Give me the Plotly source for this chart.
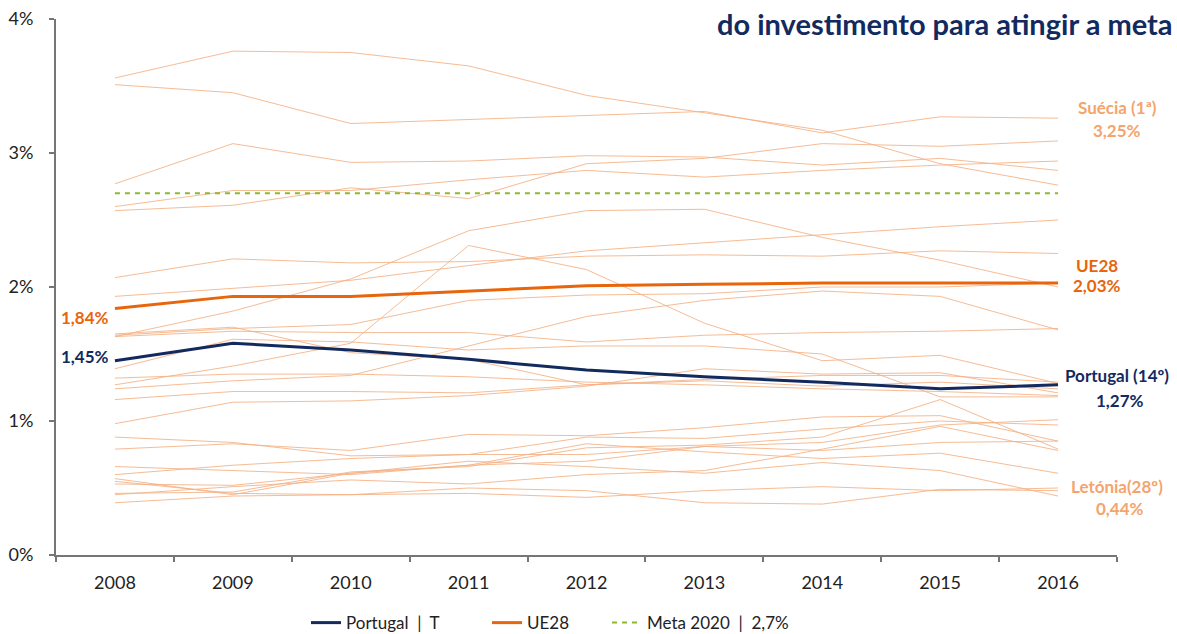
import plotly.graph_objects as go

years = ["2008", "2009", "2010", "2011", "2012", "2013", "2014", "2015", "2016"]

countries = {
    "Suécia":      [3.51, 3.45, 3.22, 3.25, 3.28, 3.31, 3.15, 3.27, 3.26],
    "Finlândia":   [3.56, 3.76, 3.75, 3.65, 3.43, 3.30, 3.17, 2.92, 2.76],
    "Dinamarca":   [2.77, 3.07, 2.93, 2.94, 2.98, 2.97, 2.91, 2.96, 2.87],
    "Alemanha":    [2.60, 2.72, 2.72, 2.80, 2.87, 2.82, 2.87, 2.91, 2.94],
    "Áustria":     [2.57, 2.61, 2.74, 2.66, 2.92, 2.96, 3.07, 3.05, 3.09],
    "Bélgica":     [1.93, 1.99, 2.05, 2.16, 2.27, 2.33, 2.39, 2.45, 2.50],
    "França":      [2.07, 2.21, 2.18, 2.19, 2.23, 2.24, 2.23, 2.27, 2.25],
    "Eslovénia":   [1.63, 1.82, 2.06, 2.42, 2.57, 2.58, 2.37, 2.20, 2.00],
    "Estónia":     [1.27, 1.41, 1.58, 2.31, 2.13, 1.73, 1.45, 1.49, 1.28],
    "Países Baixos": [1.64, 1.69, 1.72, 1.90, 1.94, 1.95, 2.00, 2.00, 2.03],
    "Reino Unido": [1.63, 1.67, 1.66, 1.66, 1.59, 1.64, 1.66, 1.67, 1.69],
    "Luxemburgo":  [1.65, 1.70, 1.51, 1.46, 1.27, 1.30, 1.26, 1.29, 1.24],
    "Itália":      [1.16, 1.22, 1.22, 1.21, 1.27, 1.31, 1.34, 1.34, 1.29],
    "Hungria":     [0.98, 1.14, 1.15, 1.19, 1.26, 1.39, 1.35, 1.36, 1.21],
    "Espanha":     [1.32, 1.35, 1.35, 1.33, 1.29, 1.27, 1.24, 1.22, 1.19],
    "Chéquia":     [1.24, 1.30, 1.34, 1.56, 1.78, 1.90, 1.97, 1.93, 1.68],
    "Irlanda":     [1.39, 1.61, 1.59, 1.53, 1.56, 1.56, 1.50, 1.18, 1.18],
    "Polónia":     [0.60, 0.67, 0.72, 0.75, 0.88, 0.87, 0.94, 1.00, 0.97],
    "Lituânia":    [0.79, 0.83, 0.78, 0.90, 0.89, 0.95, 1.03, 1.04, 0.85],
    "Croácia":     [0.88, 0.84, 0.74, 0.75, 0.75, 0.81, 0.78, 0.84, 0.85],
    "Grécia":      [0.66, 0.63, 0.60, 0.67, 0.70, 0.81, 0.84, 0.97, 1.01],
    "Eslováquia":  [0.46, 0.47, 0.62, 0.66, 0.80, 0.82, 0.88, 1.16, 0.79],
    "Bulgária":    [0.45, 0.51, 0.56, 0.53, 0.60, 0.63, 0.79, 0.96, 0.78],
    "Letónia":     [0.57, 0.45, 0.61, 0.70, 0.66, 0.61, 0.69, 0.63, 0.44],
    "Malta":       [0.53, 0.52, 0.61, 0.67, 0.83, 0.77, 0.72, 0.76, 0.61],
    "Chipre":      [0.39, 0.44, 0.45, 0.46, 0.43, 0.48, 0.51, 0.48, 0.50],
    "Roménia":     [0.55, 0.46, 0.45, 0.50, 0.48, 0.39, 0.38, 0.49, 0.48],
}

portugal = [1.45, 1.58, 1.53, 1.46, 1.38, 1.33, 1.29, 1.24, 1.27]
ue28 = [1.84, 1.93, 1.93, 1.97, 2.01, 2.02, 2.03, 2.03, 2.03]
meta = [2.7, 2.7, 2.7, 2.7, 2.7, 2.7, 2.7, 2.7, 2.7]

ytick_vals = [0, 1, 2, 3, 4]
ytick_text = ["0%", "1%", "2%", "3%", "4%"]

NAVY = "#132a5e"
ORANGE = "#e8650c"
LIGHT = "#f5b183"
LABEL_LIGHT = "#f4a46c"
GREEN = "#8cba2c"
AXIS = "#767676"
FONT = "Lato"
NB = "\u00a0"

fig = go.Figure()

for name, vals in countries.items():
    fig.add_trace(go.Scatter(x=years, y=vals, mode="lines", name=name,
                             line=dict(color=LIGHT, width=1), opacity=0.85,
                             showlegend=False, hoverinfo="skip"))

fig.add_trace(go.Scatter(x=years, y=meta, mode="lines",
                         name="Meta 2020" + NB + NB + "|" + NB + NB + "2,7%",
                         line=dict(color=GREEN, width=2, dash="5px,5px"), legend="legend3"))
fig.add_trace(go.Scatter(x=years, y=ue28, mode="lines", name="UE28",
                         line=dict(color=ORANGE, width=3), legend="legend2"))
fig.add_trace(go.Scatter(x=years, y=portugal, mode="lines",
                         name="Portugal" + NB + NB + "|" + NB + NB + "T",
                         line=dict(color=NAVY, width=3), legend="legend"))

annos = [
    dict(text="1,84%", x=0.027, y=1.77, color=ORANGE),
    dict(text="1,45%", x=0.027, y=1.485, color=NAVY),
    dict(text="Suécia (1ª)", x=1.0, y=3.34, color=LABEL_LIGHT),
    dict(text="3,25%", x=1.0, y=3.17, color=LABEL_LIGHT),
    dict(text="UE28", x=0.981, y=2.16, color=ORANGE),
    dict(text="2,03%", x=0.981, y=2.01, color=ORANGE),
    dict(text="Portugal (14º)", x=1.0, y=1.34, color=NAVY),
    dict(text="1,27%", x=1.003, y=1.15, color=NAVY),
    dict(text="Letónia(28º)", x=1.0, y=0.51, color=LABEL_LIGHT),
    dict(text="0,44%", x=1.003, y=0.345, color=LABEL_LIGHT),
]
for a in annos:
    fig.add_annotation(text="<b>%s</b>" % a["text"], x=a["x"], y=a["y"],
                       xref="paper", yref="y", xanchor="center", yanchor="middle",
                       showarrow=False, font=dict(family=FONT, size=17, color=a["color"]))

fig.add_annotation(text="<b>do investimento para atingir a meta</b>",
                   x=1.0547, y=0.991, xref="paper", yref="paper",
                   xanchor="right", yanchor="middle", showarrow=False,
                   font=dict(family=FONT, size=29, color=NAVY))

leg_common = dict(orientation="h", xanchor="left", y=-0.127, yanchor="middle",
                  font=dict(family=FONT, size=17, color="#222222"),
                  bgcolor="rgba(0,0,0,0)")

fig.update_layout(
    width=1177, height=634,
    margin=dict(l=56, r=60, t=19, b=79, autoexpand=False),
    paper_bgcolor="white", plot_bgcolor="white",
    font=dict(family=FONT, size=16, color="#222222"),
    showlegend=True,
    legend=dict(x=(306 - 56) / 1061, **leg_common),
    legend2=dict(x=(487 - 56) / 1061, **leg_common),
    legend3=dict(x=(607 - 56) / 1061, **leg_common),
    xaxis=dict(type="category", range=[-0.5, 8.5], showline=True, linecolor=AXIS,
               linewidth=2, ticks="outside", tickson="boundaries", ticklen=5,
               tickcolor=AXIS, tickwidth=2, showgrid=False, zeroline=False,
               tickfont=dict(family=FONT, size=18, color="#222222"),
               ticklabelstandoff=10, automargin=False),
    yaxis=dict(range=[0, 4], tickvals=ytick_vals, ticktext=ytick_text, showline=True,
               linecolor=AXIS, linewidth=2, ticks="outside", ticklen=5, tickcolor=AXIS,
               tickwidth=2, showgrid=False, zeroline=False,
               tickfont=dict(family=FONT, size=18, color="#222222"),
               ticklabelstandoff=12, automargin=False),
)

fig.write_html("out.html", config={"displayModeBar": False},
               post_script="document.body.style.margin='0';")
